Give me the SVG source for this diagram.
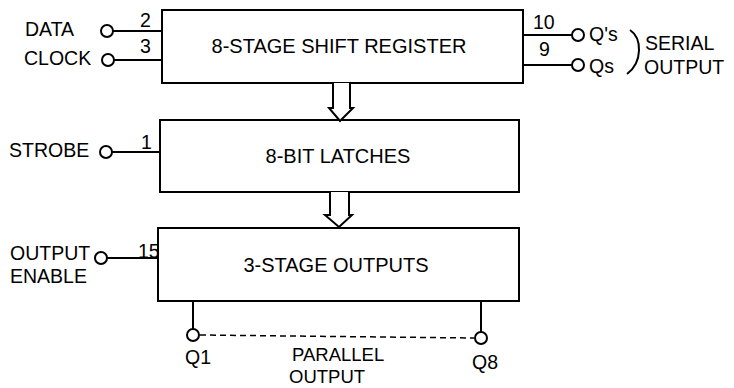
<svg xmlns="http://www.w3.org/2000/svg" width="734" height="388" viewBox="0 0 734 388">
<style>
  .box { fill: #fff; stroke: #000; stroke-width: 2; }
  .ln { fill: none; stroke: #000; stroke-width: 2; }
  .pin { fill: #fff; stroke: #000; stroke-width: 2; }
  .arr { fill: #fff; stroke: #000; stroke-width: 2; stroke-linejoin: miter; }
  .dash { fill: none; stroke: #000; stroke-width: 1.5; stroke-dasharray: 6 4; }
  text { font-family: "Liberation Sans", Arial, sans-serif; font-size: 19.5px; fill: #000; }
  .c { text-anchor: middle; font-size: 20px; }
  .p { font-size: 18.5px; }
</style>
<rect width="734" height="388" fill="#fff"/>

<g id="shift-register">
  <rect class="box" x="162" y="10" width="361" height="73"/>
  <text class="c" x="339" y="53">8-STAGE SHIFT REGISTER</text>
</g>
<g id="latches">
  <rect class="box" x="160" y="120" width="359" height="72"/>
  <text class="c" x="338" y="163">8-BIT LATCHES</text>
</g>
<g id="outputs">
  <rect class="box" x="158" y="228" width="361" height="73"/>
  <text class="c" x="336" y="272">3-STAGE OUTPUTS</text>
</g>

<g id="connectors">
  <path class="arr" d="M333 83 V108 H329 L340 121 L353 108 H350 V83"/>
  <path class="arr" d="M330 192 V215 H325 L339 227 L352 215 H349 V192"/>
  <line class="ln" x1="113" y1="31" x2="162" y2="31"/>
  <line class="ln" x1="114" y1="60" x2="162" y2="60"/>
  <line class="ln" x1="112" y1="152" x2="160" y2="152"/>
  <line class="ln" x1="107" y1="258" x2="158" y2="258"/>
  <line class="ln" x1="523" y1="35" x2="572" y2="35"/>
  <line class="ln" x1="523" y1="65" x2="572" y2="65"/>
  <line class="ln" x1="193" y1="301" x2="193" y2="329"/>
  <line class="ln" x1="481" y1="301" x2="481" y2="332"/>
  <line class="dash" x1="200" y1="335" x2="474" y2="338"/>
</g>

<g id="pin-data">
  <circle class="pin" cx="107" cy="31" r="6"/>
  <text x="25" y="36">DATA</text>
  <text x="140" y="27">2</text>
</g>
<g id="pin-clock">
  <circle class="pin" cx="108" cy="60" r="6"/>
  <text x="24" y="65">CLOCK</text>
  <text x="140" y="53">3</text>
</g>
<g id="pin-strobe">
  <circle class="pin" cx="106" cy="152" r="6"/>
  <text x="9" y="157">STROBE</text>
  <text x="141" y="149">1</text>
</g>
<g id="pin-oe">
  <circle class="pin" cx="101" cy="258" r="6"/>
  <text x="10" y="260">OUTPUT</text>
  <text x="10" y="283">ENABLE</text>
  <text x="138" y="258">15</text>
</g>
<g id="pin-qs-prime">
  <circle class="pin" cx="578" cy="35" r="6"/>
  <text x="533" y="29">10</text>
  <text x="589" y="41">Q's</text>
</g>
<g id="pin-qs">
  <circle class="pin" cx="578" cy="65" r="6"/>
  <text x="539" y="56">9</text>
  <text x="589" y="73">Qs</text>
</g>
<g id="serial-output">
  <path class="ln" d="M630 30 C642 38 643 62 627 74"/>
  <text x="645" y="50">SERIAL</text>
  <text x="644" y="74">OUTPUT</text>
</g>
<g id="pin-q1">
  <circle class="pin" cx="193" cy="335" r="6"/>
  <text x="185" y="364">Q1</text>
</g>
<g id="pin-q8">
  <circle class="pin" cx="481" cy="338" r="6"/>
  <text x="472" y="369">Q8</text>
</g>
<g id="parallel-output">
  <text class="p" x="292" y="361">PARALLEL</text>
  <text class="p" x="289" y="383">OUTPUT</text>
</g>
</svg>
